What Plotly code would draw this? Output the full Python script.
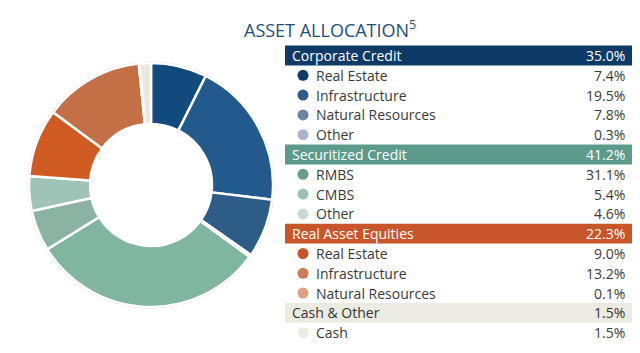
import plotly.graph_objects as go

# ---- data ----
groups = ["Corporate Credit", "Securitized Credit", "Real Asset Equities", "Cash & Other"]
group_totals = ["35.0%", "41.2%", "22.3%", "1.5%"]
group_colors = ["#0e3a67", "#5c9a8b", "#c9562b", "#ecebe1"]
group_text_colors = ["white", "white", "white", "#333333"]

sub_labels = [
    ["Real Estate", "Infrastructure", "Natural Resources", "Other"],
    ["RMBS", "CMBS", "Other"],
    ["Real Estate", "Infrastructure", "Natural Resources"],
    ["Cash"],
]
sub_values = [
    [7.4, 19.5, 7.8, 0.3],
    [31.1, 5.4, 4.6],
    [9.0, 13.2, 0.1],
    [1.5],
]
bullet_colors = [
    ["#0e3a68", "#30598b", "#6c83a6", "#a9b6cb"],
    ["#6c9c8e", "#9fbfb4", "#c7dbd3"],
    ["#c8552a", "#d07b53", "#dea081"],
    ["#ecece3"],
]
slice_colors = [
    ["#124a7e", "#235a8e", "#2d5c87", "#8fa3bd"],
    ["#80b5a0", "#8ab3a4", "#9fc3b6"],
    ["#cf5a22", "#c56f46", "#d99a76"],
    ["#e9e9dd"],
]

W, H = 640, 353
FONT = "Open Sans"

# flatten for pie
pie_labels, pie_values, pie_colors = [], [], []
for g, labs, vals, cols in zip(groups, sub_labels, sub_values, slice_colors):
    for l, v, c in zip(labs, vals, cols):
        pie_labels.append(f"{g} - {l}")
        pie_values.append(v)
        pie_colors.append(c)

cx, cy, r = 151, 185, 122
fig = go.Figure(go.Pie(
    labels=pie_labels, values=pie_values, sort=False, direction="clockwise",
    rotation=0, hole=0.5, textinfo="none", showlegend=False,
    marker=dict(colors=pie_colors, line=dict(color="white", width=2.5)),
    domain=dict(x=[(cx - r) / W, (cx + r) / W], y=[(H - cy - r) / H, (H - cy + r) / H]),
))

def py(ypx):
    return 1 - ypx / H

def px(xpx):
    return xpx / W

shapes, annotations = [], []
# faint outline around donut
shapes.append(dict(type="circle", xref="paper", yref="paper",
                   x0=px(cx - r - 1), x1=px(cx + r + 1), y0=py(cy + r + 1), y1=py(cy - r - 1),
                   line=dict(color="rgba(160,160,160,0.45)", width=1), layer="below"))

row_h = 19.8
y0 = 55.5
x_left, x_right = 285, 632
row = 0
for gi, g in enumerate(groups):
    yc = y0 + row * row_h
    shapes.append(dict(type="rect", xref="paper", yref="paper",
                       x0=px(x_left), x1=px(x_right),
                       y0=py(yc + row_h / 2), y1=py(yc - row_h / 2),
                       fillcolor=group_colors[gi], line=dict(width=0), layer="below"))
    annotations.append(dict(x=px(290), y=py(yc), xref="paper", yref="paper", text=g,
                            showarrow=False, xanchor="left", yanchor="middle",
                            font=dict(family=FONT, size=14, color=group_text_colors[gi])))
    annotations.append(dict(x=px(627), y=py(yc), xref="paper", yref="paper", text=group_totals[gi],
                            showarrow=False, xanchor="right", yanchor="middle",
                            font=dict(family=FONT, size=14, color=group_text_colors[gi])))
    row += 1
    for si, lab in enumerate(sub_labels[gi]):
        yc = y0 + row * row_h
        shapes.append(dict(type="circle", xref="paper", yref="paper",
                           x0=px(297.5), x1=px(308.5), y0=py(yc + 5.5), y1=py(yc - 5.5),
                           fillcolor=bullet_colors[gi][si], line=dict(width=0)))
        annotations.append(dict(x=px(314), y=py(yc), xref="paper", yref="paper", text=lab,
                                showarrow=False, xanchor="left", yanchor="middle",
                                font=dict(family=FONT, size=14, color="#3a3a3a")))
        annotations.append(dict(x=px(627), y=py(yc), xref="paper", yref="paper",
                                text=f"{sub_values[gi][si]:.1f}%",
                                showarrow=False, xanchor="right", yanchor="middle",
                                font=dict(family=FONT, size=14, color="#3a3a3a")))
        row += 1

annotations.append(dict(x=px(330), y=py(29), xref="paper", yref="paper",
                        text="ASSET ALLOCATION<sup>5</sup>",
                        showarrow=False, xanchor="center", yanchor="middle",
                        font=dict(family=FONT, size=18, color="#1f4e79")))

fig.update_layout(width=W, height=H, margin=dict(l=0, r=0, t=0, b=0),
                  paper_bgcolor="white", plot_bgcolor="white",
                  shapes=shapes, annotations=annotations)
fig.write_html("out.html")
